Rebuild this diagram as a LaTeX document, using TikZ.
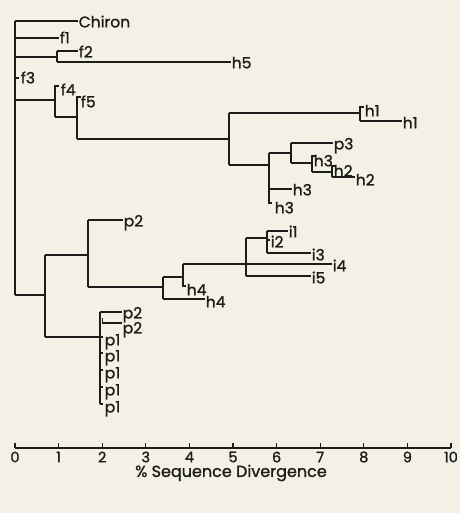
\documentclass[tikz,border=0pt]{standalone}
\usepackage{fontspec}
\setmainfont{Poppins}[FakeBold=1.2]
\definecolor{paper}{RGB}{243,240,229}
\definecolor{ink}{RGB}{28,28,26}
\begin{document}
\begin{tikzpicture}[x=1pt,y=-1pt,
  br/.style={draw=ink,line width=1.7pt},
  ax/.style={draw=ink,line width=1.5pt},
  tk/.style={draw=ink,line width=1.1pt},
  lab/.style={anchor=west,inner sep=0.6pt,text=ink,font=\fontsize{15.5}{15.5}\selectfont,text height=10.8pt,text depth=0pt},
  num/.style={inner sep=0pt,text=ink,font=\fontsize{14.5}{14.5}\selectfont},
  ttl/.style={inner sep=0pt,text=ink,font=\fontsize{16}{16}\selectfont}
]
\fill[paper] (0,0) rectangle (460,513);
\useasboundingbox (0,0) rectangle (460,513);
% root
\coordinate (R) at (15,21); \coordinate (Rb) at (15,295);
\draw[br] (R) -- (Rb);
\node[lab] (chiron) at (78,22) {Chiron};
\draw[br] (R) -- (R -| chiron.west);
\node[lab] (f1) at (59,38) {f1};
\draw[br] (R |- f1) -- (f1.west);
% f2 / h5
\coordinate (A) at (57,57); \coordinate (A1) at (57,51); \coordinate (A2) at (57,62);
\draw[br] (R |- A) -- (A);
\node[lab] (f2) at (78,52) {f2};
\node[lab] (h5) at (231,63) {h5};
\draw[br] (A1) -- (A2);
\draw[br] (A1) -- (A1 -| f2.west);
\draw[br] (A2) -- (A2 -| h5.west);
% f3
\node[lab] (f3) at (20,78) {f3};
\draw[br] (R |- f3) -- ++(3.5,0);
% f4 / f5 / h clade
\coordinate (B) at (55,100); \coordinate (B1) at (55,86); \coordinate (B2) at (55,117);
\draw[br] (R |- B) -- (B);
\draw[br] ([xshift=3.5pt]B1) -- (B1) -- (B2);
\node[lab] (f4) at (60,90) {f4};
\coordinate (C1) at (77,97); \coordinate (C2) at (77,139);
\draw[br] (B2) -- (B2 -| C1);
\draw[br] ([xshift=3.5pt]C1) -- (C1) -- (C2);
\node[lab] (f5) at (80,102) {f5};
\coordinate (D1) at (229,113); \coordinate (D2) at (229,165);
\draw[br] (C2) -- (C2 -| D1);
\draw[br] (D1) -- (D2);
% h1 pair
\coordinate (E1) at (360,107); \coordinate (E2) at (360,121);
\draw[br] (D1) -- (D1 -| E1);
\draw[br] ([xshift=3.5pt]E1) -- (E1) -- (E2);
\node[lab] (h1a) at (364,111) {h1};
\node[lab] (h1b) at (402,123) {h1};
\draw[br] (E2) -- (E2 -| h1b.west);
% h3 group
\coordinate (F1) at (269,153); \coordinate (F2) at (269,203);
\draw[br] (D2) -- (D2 -| F1);
\draw[br] ([xshift=3pt]F2) -- (F2) -- (F1);
\node[lab] (h3a) at (292,190) {h3};
\draw[br] (F1 |- 0,189) -- (h3a.west |- 0,189);
\node[lab] (h3b) at (274,208) {h3};
\coordinate (G1) at (291,143); \coordinate (G2) at (291,163);
\draw[br] (F1) -- (F1 -| G1);
\draw[br] (G1) -- (G2);
\node[lab] (p3) at (333,144) {p3};
\draw[br] (G1) -- (G1 -| p3.west);
\coordinate (H1) at (312,156); \coordinate (H2) at (312,172);
\draw[br] (G2) -- (G2 -| H1);
\draw[br] ([xshift=2.5pt]H1) -- (H1) -- (H2);
\node[lab] (h3c) at (313,161) {h3};
\coordinate (I1) at (332,166); \coordinate (I2) at (332,177);
\draw[br] (H2) -- (H2 -| I1);
\draw[br] ([xshift=2.5pt]I1) -- (I1) -- (I2);
\node[lab] (h2a) at (333,171) {h2};
\node[lab] (h2b) at (355,180) {h2};
\draw[br] (I2) -- (I2 -| h2b.west);
% lower clade
\coordinate (J) at (45,295); \coordinate (J1) at (45,255); \coordinate (J2) at (45,337);
\draw[br] (Rb) -- (J);
\draw[br] (J1) -- (J2);
\coordinate (K1) at (88,220); \coordinate (K2) at (88,287);
\draw[br] (J1) -- (J1 -| K1);
\draw[br] (K1) -- (K2);
\node[lab] (p2a) at (123,221) {p2};
\draw[br] (K1) -- (K1 -| p2a.west);
\coordinate (L1) at (163,277); \coordinate (L2) at (163,299);
\draw[br] (K2) -- (K2 -| L1);
\draw[br] (L1) -- (L2);
\node[lab] (h4b) at (205,302) {h4};
\draw[br] (L2) -- (L2 -| h4b.west);
\coordinate (M1) at (183,264); \coordinate (M2) at (183,286);
\draw[br] (L1) -- (L1 -| M1);
\draw[br] ([xshift=3pt]M2) -- (M2) -- (M1);
\node[lab] (h4a) at (186,290) {h4};
\coordinate (N1) at (246,238); \coordinate (N2) at (246,276);
\draw[br] (N1) -- (N2);
\node[lab] (i4) at (332,266) {i4};
\draw[br] (M1) -- (M1 -| i4.west);
\node[lab] (i5) at (311,278) {i5};
\draw[br] (N2) -- (N2 -| i5.west);
\coordinate (O1) at (267,231); \coordinate (O2) at (267,253);
\draw[br] (N1) -- (N1 -| O1);
\draw[br] (O1) -- (O2);
\node[lab] (i1) at (288,232) {i1};
\draw[br] (O1) -- (O1 -| i1.west);
\node[lab] (i2) at (270,242) {i2};
\draw[br] (O1 |- 0,240) -- ++(2.5,0);
\node[lab] (i3) at (311,255) {i3};
\draw[br] (O2) -- (O2 -| i3.west);
% p group
\coordinate (P1) at (100,312); \coordinate (P2) at (100,404);
\draw[br] (J2) -- (J2 -| P1);
\draw[br] (P1) -- (P2);
\node[lab] (p2b) at (122,313) {p2};
\draw[br] (P1) -- (P1 -| p2b.west);
\coordinate (Q) at (102.5,323);
\node[lab] (p2c) at (122,328) {p2};
\draw[br] ([yshift=5pt]Q) -- (Q) -- (Q -| p2c.west);
\foreach \yy [count=\i] in {337,353,370,387,404} {
  \node[lab] (pl\i) at (104,\yy+3) {p1};
  \draw[br] (P1 |- 0,\yy) -- ++(3,0);
}
% axis
\coordinate (a0) at (15,448); \coordinate (a10) at (451,448);
\draw[ax] (a0) -- (a10);
\foreach \k in {0,...,10} {
  \coordinate (t\k) at ({15+43.6*\k},448);
  \draw[tk] (t\k) -- ++(0,-5);
  \node[num] (n\k) at ({15+43.6*\k},457) {\k};
}
\node[ttl] (title) at (231,473) {\% Sequence Divergence};
\end{tikzpicture}
\end{document}
